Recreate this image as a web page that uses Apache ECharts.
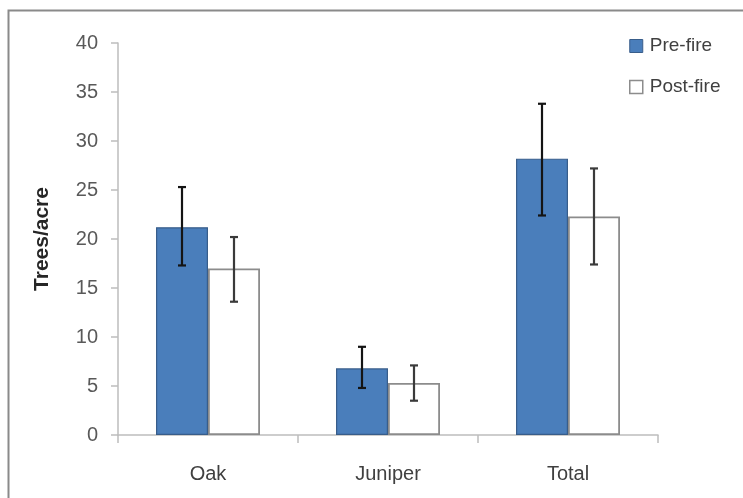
<!DOCTYPE html>
<html>
<head>
<meta charset="utf-8">
<script src="https://cdn.jsdelivr.net/npm/echarts@6/dist/echarts.min.js"></script>
<style>html,body{margin:0;padding:0;background:#fff}#c{width:743px;height:498px}</style>
</head>
<body>
<div id="c"></div>
<script>
var categories = ['Oak', 'Juniper', 'Total'];
var seriesNames = ['Pre-fire', 'Post-fire'];
var preFire = [21.2, 6.8, 28.2];
var postFire = [17.0, 5.3, 22.3];
var preLow = [17.3, 4.8, 22.4];
var preHigh = [25.3, 9.0, 33.8];
var postLow = [13.6, 3.5, 17.4];
var postHigh = [20.2, 7.1, 27.2];
var yTicks = [0, 5, 10, 15, 20, 25, 30, 35, 40];

var FONT = 'Liberation Sans';
var BAR_W = 52;

function errData(low, high) {
  return categories.map(function (c, i) { return [i, low[i], high[i]]; });
}
function errRender(offset, color) {
  return function (params, api) {
    var x = api.value(0);
    var lo = api.coord([x, api.value(1)]);
    var hi = api.coord([x, api.value(2)]);
    var cx = lo[0] + offset;
    var cap = 4;
    var style = { stroke: color, lineWidth: 2.2 };
    return {
      type: 'group',
      children: [
        { type: 'line', shape: { x1: cx, y1: hi[1], x2: cx, y2: lo[1] }, style: style },
        { type: 'line', shape: { x1: cx - cap, y1: hi[1], x2: cx + cap, y2: hi[1] }, style: style },
        { type: 'line', shape: { x1: cx - cap, y1: lo[1], x2: cx + cap, y2: lo[1] }, style: style }
      ]
    };
  };
}

var chart = echarts.init(document.getElementById('c'), null, { renderer: 'canvas' });
chart.setOption({
  animation: false,
  backgroundColor: '#ffffff',
  textStyle: { fontFamily: FONT },
  graphic: [{
    type: 'rect', left: 6, top: 8, z: 100, silent: true,
    shape: { x: 0, y: 0, width: 760, height: 520 },
    style: { fill: 'none', stroke: '#8a8a8a', lineWidth: 2 }
  }],
  grid: { left: 118, right: 85, top: 43, bottom: 63, containLabel: false },
  legend: {
    orient: 'vertical', left: 624, top: 31,
    itemWidth: 13, itemHeight: 13, itemGap: 21,
    icon: 'rect',
    textStyle: { fontFamily: FONT, fontSize: 19, color: '#404040', lineHeight: 20, padding: [0, 0, 0, 2] },
    data: [
      { name: seriesNames[0], itemStyle: { color: '#4a7ebb', borderColor: '#385d8a', borderWidth: 1 } },
      { name: seriesNames[1], itemStyle: { color: '#ffffff', borderColor: '#8c8c8c', borderWidth: 1.5 } }
    ]
  },
  xAxis: {
    type: 'category', data: categories,
    axisLine: { show: true, lineStyle: { color: '#bdbdbd', width: 1.5 } },
    axisTick: { show: true, length: 8, lineStyle: { color: '#bdbdbd', width: 1.5 } },
    axisLabel: { fontFamily: FONT, fontSize: 20, color: '#404040', margin: 29 },
    splitLine: { show: false }
  },
  yAxis: {
    type: 'value', min: 0, max: 40, interval: 5,
    name: 'Trees/acre', nameLocation: 'middle', nameGap: 65, nameRotate: 90,
    nameTextStyle: { fontFamily: FONT, fontSize: 21, fontWeight: 'bold', color: '#262626' },
    axisLine: { show: true, lineStyle: { color: '#bdbdbd', width: 1.5 } },
    axisTick: { show: true, length: 7, lineStyle: { color: '#bdbdbd', width: 1.5 } },
    axisLabel: {
      fontFamily: FONT, fontSize: 20, color: '#595959', margin: 20,
      formatter: function (v) { return yTicks.indexOf(v) >= 0 ? String(v) : ''; }
    },
    splitLine: { show: false }
  },
  series: [
    {
      name: seriesNames[0], type: 'bar', data: preFire, barWidth: BAR_W, barGap: '0%',
      itemStyle: { color: '#4a7ebb', borderColor: '#385d8a', borderWidth: 1.2 }
    },
    {
      name: seriesNames[1], type: 'bar', data: postFire, barWidth: BAR_W, barGap: '0%',
      itemStyle: { color: '#ffffff', borderColor: '#8c8c8c', borderWidth: 1.8 }
    },
    {
      type: 'custom', name: 'preErr', data: errData(preLow, preHigh), z: 10,
      renderItem: errRender(-BAR_W / 2, '#141414'), encode: { x: 0, y: [1, 2] }
    },
    {
      type: 'custom', name: 'postErr', data: errData(postLow, postHigh), z: 10,
      renderItem: errRender(BAR_W / 2, '#3a3a3a'), encode: { x: 0, y: [1, 2] }
    }
  ]
});
</script>
</body>
</html>
